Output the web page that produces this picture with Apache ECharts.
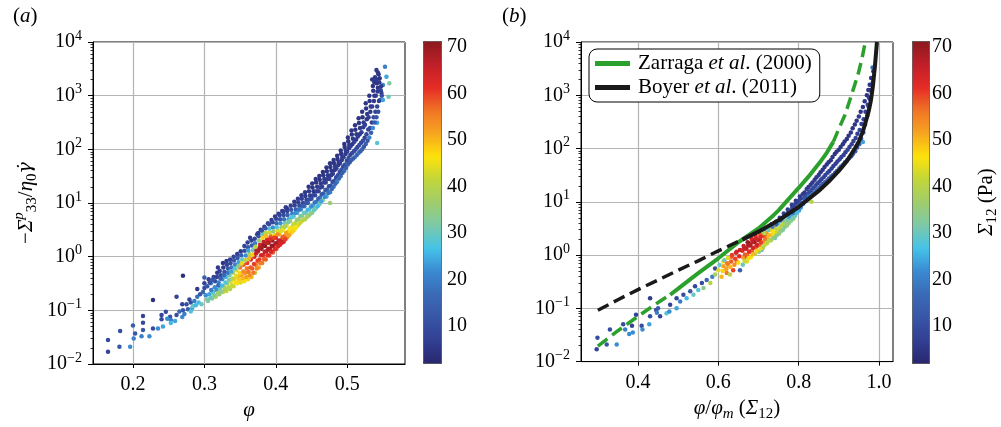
<!DOCTYPE html>
<html><head><meta charset="utf-8">
<script src="https://cdn.jsdelivr.net/npm/echarts@6/dist/echarts.min.js"></script>
<style>html,body{margin:0;padding:0;background:#fff}#c{width:1001px;height:427px}</style>
</head><body><div id="c"></div>
<script>
// ---- data: [phi, -Sigma33/eta0 gammadot, Sigma12 (Pa)] ----
const scatterA = [
[0.165,0.017,8],[0.165,0.028,10],[0.181,0.021,12],[0.182,0.041,10],[0.196,0.021,22],[0.2,0.052,14],[0.203,0.037,12],[0.201,0.03,20],[0.214,0.078,8],[0.214,0.059,10],[0.214,0.043,12],[0.212,0.033,20],[0.223,0.033,22],[0.228,0.156,4],[0.228,0.046,10],[0.235,0.046,22],[0.24,0.068,10],[0.24,0.082,8],[0.242,0.05,24],[0.246,0.094,10],[0.252,0.076,12],[0.253,0.066,20],[0.253,0.058,26],[0.259,0.063,24],[0.261,0.082,10],[0.261,0.18,8],[0.27,0.44,4],[0.269,0.13,8],[0.27,0.1,12],[0.269,0.075,22],[0.272,0.085,20],[0.277,0.105,14],[0.279,0.16,8],[0.281,0.14,10],[0.281,0.095,28],[0.283,0.11,24],[0.286,0.15,20],[0.29,0.25,6],[0.29,0.18,18],[0.292,0.14,26],[0.3,0.41,14],[0.3,0.32,8],[0.3,0.26,10],[0.302,0.19,22],[0.304,0.16,30],
[0.284,0.12,30],[0.288,0.125,26],[0.294,0.2,12],[0.296,0.13,30],[0.298,0.22,16],[0.275,0.13,10],[0.265,0.095,16],[0.248,0.07,22],
[0.305,0.15,32],[0.307,0.2,24],[0.304,0.28,12],[0.306,0.38,7],
[0.311,0.166,34],[0.312,0.22,28],[0.309,0.32,18],[0.313,0.42,8],
[0.316,0.18,38],[0.317,0.24,22],[0.315,0.35,10],[0.318,0.5,6],
[0.321,0.2,36],[0.322,0.25,30],[0.32,0.33,20],[0.323,0.45,9],[0.319,0.63,6],
[0.326,0.22,40],[0.327,0.28,34],[0.325,0.38,22],[0.328,0.52,10],[0.326,0.76,5],
[0.331,0.23,42],[0.332,0.32,36],[0.33,0.42,26],[0.333,0.6,12],[0.331,0.83,6],
[0.336,0.25,40],[0.337,0.34,44],[0.335,0.45,30],[0.338,0.63,18],[0.336,0.89,7],
[0.341,0.28,42],[0.342,0.38,48],[0.34,0.5,38],[0.343,0.71,20],[0.341,1.0,8],
[0.346,0.32,46],[0.347,0.42,50],[0.345,0.56,44],[0.348,0.79,24],[0.346,1.12,7],
[0.351,0.33,44],[0.352,0.45,52],[0.35,0.63,56],[0.353,0.89,30],[0.351,1.26,6],
[0.356,0.35,46],[0.357,0.5,54],[0.355,0.71,58],[0.358,1.05,22],[0.356,1.58,8],
[0.361,0.38,48],[0.362,0.52,56],[0.36,0.76,60],[0.363,1.12,40],[0.361,1.5,12],[0.364,2.24,6],
[0.366,0.42,50],[0.367,0.6,58],[0.365,0.89,62],[0.368,1.32,30],[0.366,2.0,7],
[0.371,0.5,40],[0.372,0.71,56],[0.37,1.0,64],[0.373,1.32,66],[0.371,1.78,20],[0.374,2.63,6],
[0.376,0.63,52],[0.377,0.89,60],[0.375,1.26,68],[0.378,1.66,64],[0.376,2.4,12],[0.379,3.16,6],
[0.381,0.76,56],[0.382,1.07,62],[0.38,1.41,70],[0.383,1.9,66],[0.381,2.63,30],[0.384,3.6,7],
[0.386,0.89,58],[0.387,1.26,66],[0.385,1.58,71],[0.388,2.1,64],[0.386,2.8,40],[0.389,4.2,8],
[0.391,1.05,60],[0.392,1.41,68],[0.39,1.82,70],[0.393,2.4,58],[0.391,3.3,28],[0.394,4.8,7],
[0.396,1.2,58],[0.397,1.58,66],[0.395,2.0,70],[0.398,2.5,48],[0.396,3.5,22],[0.399,5.6,6],
[0.401,1.41,60],[0.402,1.78,68],[0.4,2.24,64],[0.403,3.0,44],[0.401,4.2,16],[0.404,6.3,6],
[0.406,1.66,62],[0.407,2.0,66],[0.405,2.63,50],[0.408,3.5,36],[0.406,5.0,12],[0.409,7.1,6],
[0.411,1.9,64],[0.412,2.4,56],[0.41,3.16,46],[0.413,4.2,30],[0.411,6.0,10],[0.414,8.3,6],
[0.416,2.3,54],[0.417,2.9,48],[0.415,3.8,42],[0.418,5.0,24],[0.416,7.1,8],
[0.421,2.75,48],[0.422,3.5,44],[0.42,4.6,36],[0.423,6.3,20],[0.421,8.9,7],
[0.426,3.16,46],[0.427,4.2,40],[0.425,5.6,28],[0.428,7.6,14],[0.426,10.5,6],
[0.431,3.8,44],[0.432,5.0,36],[0.43,6.6,24],[0.433,8.9,10],[0.431,12,6],
[0.436,4.5,42],[0.437,5.8,34],[0.435,7.6,22],[0.438,10,9],[0.436,14,6],
[0.441,5.0,40],[0.442,6.6,30],[0.44,8.7,18],[0.443,11.5,8],[0.441,15.8,6],
[0.446,5.8,36],[0.447,7.6,28],[0.445,10,14],[0.448,13.8,7],[0.446,20,5],
[0.451,6.6,34],[0.452,8.9,24],[0.45,12,10],[0.453,16.6,6],[0.451,23,5],
[0.456,7.9,32],[0.457,10.5,20],[0.455,14,9],[0.458,20,6],[0.456,28,5],
[0.461,9.5,30],[0.462,12.6,18],[0.46,16.6,8],[0.463,23,6],[0.461,32,5],
[0.466,11.2,34],[0.467,15,16],[0.465,20,8],[0.468,28,6],[0.466,38,5],
[0.471,13.2,24],[0.472,17.8,14],[0.47,24,8],[0.473,33,6],[0.471,46,5],[0.476,10,36],
[0.476,15.8,20],[0.477,21,12],[0.475,28,7],[0.478,40,5],[0.476,55,5],
[0.481,20,18],[0.482,26,12],[0.48,35,7],[0.483,48,6],[0.481,63,5],
[0.486,25,20],[0.487,33,10],[0.485,44,7],[0.488,58,6],[0.486,76,5],
[0.491,32,16],[0.492,42,11],[0.49,55,7],[0.493,72,6],[0.491,95,5],
[0.496,40,18],[0.497,52,12],[0.495,71,7],[0.498,95,6],[0.496,126,5],
[0.501,52,14],[0.502,69,10],[0.5,91,7],[0.503,120,6],[0.501,166,5],
[0.506,63,16],[0.507,85,11],[0.505,115,7],[0.508,158,6],[0.506,224,5],
[0.511,72,20],[0.512,100,12],[0.51,138,8],[0.513,190,6],[0.511,282,5],
[0.516,85,18],[0.517,120,11],[0.515,174,7],[0.518,251,6],[0.516,380,5],
[0.521,100,16],[0.522,145,10],[0.52,209,7],[0.523,316,6],[0.521,500,5],
[0.526,126,14],[0.527,190,9],[0.525,288,7],[0.528,457,6],[0.526,724,5],
[0.531,166,20],[0.532,251,10],[0.53,398,7],[0.533,631,6],[0.531,1000,5],
[0.536,251,22],[0.537,398,10],[0.535,631,7],[0.538,1000,6],[0.536,1510,5],
[0.541,398,12],[0.542,631,8],[0.54,1000,6],[0.543,1410,5],[0.541,2000,6],[0.541,3000,6],
[0.546,830,14],[0.547,1260,8],[0.545,1780,6],[0.544,2500,5],
[0.553,3470,20],[0.555,2260,24],[0.559,1700,32],[0.558,957,30],[0.55,830,24],[0.542,314,24],[0.542,131,28],[0.55,1580,20],[0.538,1780,6],[0.548,1120,7],
[0.3085,0.17,30],[0.3095,0.24,20],[0.3075,0.33,10],
[0.3135,0.19,32],[0.3145,0.27,22],[0.3115,0.37,12],
[0.3185,0.21,36],[0.3195,0.29,16],[0.3175,0.42,8],
[0.3235,0.225,34],[0.3245,0.29,26],[0.3225,0.39,14],[0.3215,0.54,7],
[0.3285,0.25,38],[0.3295,0.33,28],[0.3275,0.45,16],[0.3265,0.63,6],
[0.3335,0.27,40],[0.3345,0.37,32],[0.3325,0.5,18],[0.3315,0.71,8],
[0.3385,0.29,42],[0.3395,0.39,40],[0.3375,0.53,24],[0.3365,0.75,10],
[0.3435,0.33,46],[0.3445,0.44,44],[0.3425,0.6,28],[0.3415,0.85,12],
[0.3485,0.37,48],[0.3495,0.49,48],[0.3475,0.67,34],[0.3465,0.94,12],
[0.3535,0.39,50],[0.3545,0.53,54],[0.3525,0.75,44],[0.3515,1.06,14],
[0.3585,0.42,52],[0.3595,0.6,56],[0.3575,0.86,40],[0.3565,1.29,10],
[0.3635,0.45,54],[0.3645,0.63,58],[0.3625,0.92,50],[0.3615,1.3,24],[0.3605,1.83,7],
[0.3685,0.5,56],[0.3695,0.73,60],[0.3675,1.08,48],[0.3665,1.62,14],
[0.3735,0.6,54],[0.3745,0.84,60],[0.3725,1.15,66],[0.3715,1.53,40],[0.3705,2.16,8],
[0.3785,0.75,56],[0.3795,1.06,64],[0.3775,1.45,68],[0.3765,2.0,36],[0.3755,2.75,7],
[0.3835,0.9,58],[0.3845,1.23,66],[0.3825,1.64,70],[0.3815,2.24,48],[0.3805,3.08,10],
[0.3885,1.06,62],[0.3895,1.41,68],[0.3875,1.82,66],[0.3865,2.42,50],[0.3855,3.4,12],
[0.3935,1.23,64],[0.3945,1.6,70],[0.3925,2.1,62],[0.3915,2.8,42],[0.3905,4.0,10],
[0.3985,1.38,62],[0.3995,1.78,68],[0.3975,2.24,60],[0.3965,2.96,36],[0.3955,4.4,9],
[0.4035,1.58,64],[0.4045,2.0,66],[0.4025,2.6,54],[0.4015,3.55,28],[0.4005,5.1,8],
[0.4085,1.82,64],[0.4095,2.3,58],[0.4075,3.0,44],[0.4065,4.2,22],[0.4055,6.0,8],
[0.4135,2.1,60],[0.4145,2.75,52],[0.4125,3.6,38],[0.4115,5.0,18],[0.4105,7.0,7],
[0.4185,2.5,52],[0.4195,3.3,46],[0.4175,4.4,32],[0.4165,6.0,14],[0.4155,8.0,6],
[0.4235,2.95,48],[0.4245,4.0,42],[0.4225,5.4,28],[0.4215,7.5,12],
[0.4285,3.5,46],[0.4295,4.8,36],[0.4275,6.5,22],[0.4265,9.0,8],
[0.4335,4.2,42],[0.4345,5.7,32],[0.4325,7.6,18],[0.4315,10.3,7],
[0.4385,4.9,40],[0.4395,6.6,30],[0.4375,8.7,14],[0.4365,12,7],
[0.4435,5.5,38],[0.4445,7.5,26],[0.4425,10,12],[0.4415,13.5,6],
[0.4485,6.3,34],[0.4495,8.6,22],[0.4475,11.7,10],[0.4465,16.6,6],
[0.4535,7.4,30],[0.4545,10.2,18],[0.4525,14,8],[0.4515,19.5,5],
[0.4585,8.7,26],[0.4595,12,14],[0.4575,16.6,7],[0.4565,24,5],
[0.4635,10.8,24],[0.4645,14.5,12],[0.4625,19.5,7],[0.4615,27,5],
[0.4685,12.9,22],[0.4695,17.4,12],[0.4675,24,7],[0.4665,33,5],
[0.4735,15.3,18],[0.4745,20.6,10],[0.4725,28,7],[0.4715,39,5],
[0.4785,18.2,16],[0.4795,24.5,10],[0.4775,33,6],[0.4765,47,5],
[0.4835,22.8,16],[0.4845,30,9],[0.4825,41,6],[0.4815,55,5],
[0.4885,28.7,16],[0.4895,38,9],[0.4875,51,6],[0.4865,66,5],
[0.4935,36.6,14],[0.4945,48,9],[0.4925,63,6],[0.4915,83,5],
[0.4985,45.6,14],[0.4995,61,9],[0.4975,82,6],[0.4965,110,5],
[0.5035,57.3,12],[0.5045,79,8],[0.5025,105,6],[0.5015,141,5],
[0.5085,67.3,14],[0.5095,92,9],[0.5075,126,6],[0.5065,188,5],
[0.5135,78.6,16],[0.5145,110,9],[0.5125,152,6],[0.5115,231,5],
[0.5185,92,14],[0.5195,132,9],[0.5175,190,6],[0.5165,309,5],
[0.5235,112,12],[0.5245,165,8],[0.5225,257,6],[0.5215,398,5],
[0.5285,145,12],[0.5295,234,8],[0.5275,363,6],[0.5265,575,5],
[0.5335,204,14],[0.5345,316,8],[0.5325,501,6],[0.5315,794,5],
[0.5385,316,14],[0.5395,501,8],[0.5375,794,6],[0.5365,1230,5],
[0.5435,501,10],[0.5445,794,7],[0.5425,1190,6],[0.5415,1700,5],
[0.5485,1000,10],[0.5475,1500,6],[0.5455,2100,5],
[0.539,2200,6],[0.543,2700,6],[0.535,2000,6]
];
// [phi/phi_m(Sigma12), -Sigma33/eta0 gammadot, Sigma12 (Pa)]
const scatterB = [
[0.297,0.017,8],[0.299,0.028,10],[0.322,0.021,12],[0.33,0.04,10],[0.347,0.021,22],[0.363,0.05,10],[0.368,0.04,20],[0.378,0.033,22],[0.385,0.047,8],[0.387,0.035,22],[0.395,0.076,8],[0.409,0.047,10],[0.411,0.04,22],[0.43,0.155,6],[0.43,0.071,10],[0.428,0.05,24],[0.445,0.093,10],[0.447,0.083,20],[0.45,0.1,14],[0.455,0.071,8],[0.471,0.081,28],[0.48,0.117,8],[0.478,0.087,22],[0.496,0.155,8],[0.496,0.1,24],[0.505,0.135,20],[0.513,0.18,10],[0.521,0.155,26],[0.53,0.21,12],[0.538,0.18,30],[0.542,0.26,8],[0.55,0.22,28],[0.559,0.3,10],[0.563,0.24,34],[0.571,0.34,16],[0.58,0.3,40],[0.585,0.39,20],[0.592,0.43,38],[0.592,0.56,10],[0.6,0.52,44],[0.603,0.65,30],[0.608,0.39,50],[0.612,0.76,46],[0.621,0.46,56],[0.625,0.65,54],[0.629,0.43,40],[0.633,0.93,58],[0.637,0.52,60],[0.646,0.76,56],[0.646,1.15,62],[0.654,0.52,14],[0.666,0.93,64],[0.666,1.35,68],[0.675,1.66,70],[0.683,1.15,62],[0.687,1.9,68],[0.695,1.45,64],[0.704,2.0,66],[0.708,1.26,26],[0.716,2.2,60],[0.725,1.9,52],[0.733,2.95,44],[0.741,2.4,48],[0.754,3.16,40],[0.762,4.2,36],[0.77,4.0,44],[0.779,5.1,34],[0.787,4.8,40],[0.795,6.5,30],[0.804,8.5,20],
[0.611,0.5,48],[0.613,0.62,52],[0.615,0.8,30],
[0.62,0.55,52],[0.622,0.7,56],[0.624,0.88,44],
[0.63,0.6,50],[0.632,0.76,58],[0.634,1.0,60],
[0.64,0.66,54],[0.642,0.85,60],[0.644,1.1,64],
[0.65,0.72,46],[0.652,0.95,62],[0.654,1.25,66],
[0.661,0.66,30],[0.662,0.89,52],[0.66,1.2,62],[0.663,1.48,66],
[0.671,0.76,44],[0.672,1.0,56],[0.67,1.32,66],[0.673,1.74,70],
[0.681,0.91,46],[0.682,1.2,58],[0.68,1.51,68],[0.683,2.0,64],
[0.691,1.05,40],[0.692,1.38,60],[0.69,1.74,70],[0.693,2.24,62],
[0.701,1.15,34],[0.702,1.51,56],[0.7,1.9,66],[0.703,2.5,58],
[0.711,1.38,36],[0.712,1.78,52],[0.71,2.3,60],[0.713,2.9,20],
[0.721,1.66,40],[0.722,2.1,50],[0.72,2.63,54],[0.723,3.3,12],
[0.731,1.9,38],[0.732,2.4,46],[0.73,3.0,48],[0.733,3.8,8],
[0.741,2.1,30],[0.742,2.63,44],[0.74,3.3,40],[0.743,4.2,8],
[0.751,2.5,36],[0.752,3.16,42],[0.75,4.0,28],[0.753,5.0,7],
[0.761,3.0,32],[0.762,3.8,40],[0.76,4.8,22],[0.763,6.0,7],
[0.771,3.6,36],[0.772,4.6,30],[0.77,5.8,14],[0.773,7.2,6],
[0.781,4.4,34],[0.782,5.5,24],[0.78,6.9,10],[0.783,8.7,6],
[0.791,5.5,30],[0.792,6.9,20],[0.79,8.7,8],[0.793,10.5,6],
[0.801,6.9,24],[0.802,8.7,16],[0.8,10.5,8],[0.803,12.6,6],
[0.811,9.1,22],[0.812,11.5,14],[0.81,13.8,7],[0.832,10,40],
[0.821,11.2,22],[0.822,13.8,12],[0.82,17.4,7],
[0.831,13.2,20],[0.832,16.6,10],[0.83,21,6],
[0.841,15.1,18],[0.842,20,9],[0.84,26,6],
[0.851,18.2,16],[0.852,24,8],[0.85,32,6],
[0.861,21.9,14],[0.862,29,8],[0.86,40,5],
[0.871,25,14],[0.872,35,8],[0.87,50,5],
[0.881,30,12],[0.882,42,7],[0.88,60,5],
[0.891,35,12],[0.892,52,7],[0.89,79,5],
[0.901,42,14],[0.902,63,8],[0.9,95,5],
[0.911,50,12],[0.912,76,7],[0.91,120,5],
[0.921,60,14],[0.922,95,8],[0.92,151,5],
[0.931,72,12],[0.932,120,7],[0.93,200,5],
[0.941,89,14],[0.942,158,8],[0.94,282,5],
[0.951,120,16],[0.952,224,8],[0.95,398,6],
[0.961,200,12],[0.962,355,7],[0.96,603,5],[0.96,132,24],
[0.971,417,10],[0.972,661,7],[0.97,1000,5],
[0.978,832,8],[0.979,1260,6],[0.977,1580,5],
[0.985,1780,6],[0.986,2820,6],[0.984,3310,18],
[0.6655,0.77,42],[0.6665,1.03,58],[0.6645,1.33,66],
[0.6755,0.87,46],[0.6765,1.15,62],[0.6745,1.52,68],
[0.6855,1.04,50],[0.6865,1.35,64],[0.6845,1.74,66],
[0.6955,1.2,48],[0.6965,1.55,64],[0.6945,1.98,64],
[0.7055,1.32,44],[0.7065,1.7,60],[0.7045,2.18,62],
[0.7155,1.55,42],[0.7165,2.0,56],[0.7145,2.58,40],
[0.7255,1.85,40],[0.7265,2.35,50],[0.7245,2.95,30],
[0.7355,2.1,36],[0.7365,2.7,46],[0.7345,3.4,20],
[0.7455,2.35,34],[0.7465,2.95,42],[0.7445,3.75,14],
[0.7555,2.8,34],[0.7565,3.55,40],[0.7545,4.5,12],
[0.7655,3.35,34],[0.7665,4.25,34],[0.7645,5.4,10],
[0.7755,4.0,34],[0.7765,5.2,24],[0.7745,6.5,8],
[0.7855,4.9,32],[0.7865,6.2,18],[0.7845,7.8,7],
[0.7955,6.2,26],[0.7965,7.8,14],[0.7945,9.6,7],
[0.8055,7.8,22],[0.8065,9.6,12],[0.8045,11.5,7],
[0.8155,10.2,18],[0.8165,12.6,10],[0.8145,15,6],
[0.8255,12.4,18],[0.8265,15.5,9],[0.8245,19,6],
[0.8355,14,16],[0.8365,18.2,9],[0.8345,23,6],
[0.8455,16.6,16],[0.8465,22,8],[0.8445,29,6],
[0.8555,20,14],[0.8565,26.5,8],[0.8545,36,5],
[0.8655,23.4,14],[0.8665,32,8],[0.8645,45,5],
[0.8755,27.5,12],[0.8765,38,7],[0.8745,55,5],
[0.8855,32,12],[0.8865,47,7],[0.8845,69,5],
[0.8955,38,12],[0.8965,57,7],[0.8945,87,5],
[0.9055,46,12],[0.9065,69,7],[0.9045,107,5],
[0.9155,55,12],[0.9165,85,7],[0.9145,135,5],
[0.9255,66,12],[0.9265,107,7],[0.9245,174,5],
[0.9355,80,12],[0.9365,138,7],[0.9345,240,5],
[0.9455,105,12],[0.9465,190,7],[0.9445,331,5],
[0.9555,155,12],[0.9565,288,7],[0.9545,490,5],
[0.9655,282,10],[0.9665,490,7],[0.9645,776,5],
[0.9745,600,8],[0.9755,900,6],[0.9735,1250,5],
[0.9815,1150,7],[0.9825,1600,6],[0.9805,2100,5]
];
// model curves, panel (b)
const zarragaDashLow = [[0.3,0.0195],[0.35,0.038],[0.4,0.0708],[0.45,0.129],[0.48,0.18]];
const zarragaSolid = [[0.48,0.18],[0.5,0.234],[0.55,0.457],[0.6,0.87],[0.65,1.74],[0.7,3.16],[0.737,5.56],[0.75,6.9],[0.775,11.2],[0.8,18.2],[0.825,30],[0.853,55],[0.87,83],[0.886,132]];
const zarragaDashHigh = [[0.886,132],[0.903,263],[0.915,420],[0.928,832],[0.94,1600],[0.949,2630],[0.958,5000],[0.967,10960]];
const boyerDash = [[0.3,0.092],[0.35,0.145],[0.4,0.225],[0.45,0.34],[0.5,0.52],[0.55,0.78],[0.6,1.2],[0.66,1.95]];
const boyerSolid = [[0.66,1.95],[0.7,2.75],[0.75,4.5],[0.8,8],[0.85,16],[0.875,24],[0.9,38],[0.92,58],[0.94,100],[0.95,135],[0.96,210],[0.97,380],[0.975,520],[0.98,800],[0.985,1500],[0.99,3500],[0.995,10000]];
const xTicksA = [0.2,0.3,0.4,0.5];
const xTicksB = [0.4,0.6,0.8,1.0];
const cbTicks = [10,20,30,40,50,60,70];
const legendNames = ['Zarraga et al. (2000)','Boyer et al. (2011)'];

const F = '"Liberation Serif", "Times New Roman", serif';
const FS = 20;
const jet = ['#28266e','#323f93','#3856a6','#3a6ab6','#3a8ad2','#45c3e8','#7cc9a8','#a0cd6c','#c2d63a','#fde20a','#f7a51f','#f07426','#e52b26','#c01f28','#8a1a1e'];
const CB_MIN = 2, CB_MAX = 71.3;
const GREEN = '#2ca02c', BLACK = '#1a1a1a';

const rich = {
  b:{fontFamily:F,fontSize:FS,lineHeight:26,color:'#000'},
  s:{fontFamily:F,fontSize:14,lineHeight:14,verticalAlign:'top',color:'#000'},
  n:{fontFamily:F,fontSize:21,lineHeight:28,color:'#000',fontWeight:'normal'},
  i:{fontFamily:F,fontSize:21,lineHeight:28,fontStyle:'italic',color:'#000',fontWeight:'normal'},
  g:{fontFamily:'"DejaVu Serif", serif',fontSize:19,lineHeight:28,fontStyle:'italic',color:'#000'},
  sup:{fontFamily:F,fontSize:15,lineHeight:14,verticalAlign:'top',fontStyle:'italic',color:'#000'},
  sub:{fontFamily:F,fontSize:15,lineHeight:14,verticalAlign:'bottom',color:'#000'},
  subi:{fontFamily:F,fontSize:15,lineHeight:14,verticalAlign:'bottom',fontStyle:'italic',color:'#000'}
};
const minorVals = [];
for (let k=-2;k<4;k++) for (let m=2;m<10;m++) minorVals.push(k+Math.log10(m));

function logLabel(v){ const e=Math.round(Math.log10(v)); return '{b|10}{s|'+(e<0?'\u2212'+(-e):e)+'}'; }

const labelBase = {fontFamily:F,fontSize:FS,color:'#000'};
function mainX(idx, min, max, ticks, name){
  return {type:'value', gridIndex:idx, min:min, max:max,
    axisLine:{show:true,onZero:false,lineStyle:{color:'#000',width:1}},
    axisTick:{show:true,length:4,customValues:ticks,lineStyle:{color:'#000'}},
    axisLabel:Object.assign({customValues:ticks,formatter:v=>'{b|'+v.toFixed(1)+'}',rich:rich,margin:8},labelBase),
    splitLine:{show:true,lineStyle:{color:'#b4b4b4',width:1.2}},
    name:name,nameLocation:'middle',nameGap:30,nameTextStyle:{fontFamily:F,rich:rich}};
}
function mainY(idx, name){
  return {type:'log', logBase:10, gridIndex:idx, min:0.01, max:10000,
    axisLine:{show:true,onZero:false,lineStyle:{color:'#000',width:1}},
    axisTick:{show:true,length:5,lineStyle:{color:'#000'}},
    axisLabel:Object.assign({formatter:logLabel,rich:rich,margin:11},labelBase),
    splitLine:{show:true,lineStyle:{color:'#b4b4b4',width:1.2}},
    name:name||'',nameLocation:'middle',nameRotate:90,nameGap:53,nameTextStyle:{fontFamily:F,rich:rich}};
}
function minorY(idx){
  return {type:'value', gridIndex:idx, min:-2, max:4, position:'left',
    axisLine:{show:false}, axisLabel:{show:false}, splitLine:{show:false},
    axisTick:{show:true,length:2.5,customValues:minorVals,lineStyle:{color:'#000',width:0.8}}};
}
function cbY(idx, name){
  return {type:'value', gridIndex:idx, min:CB_MIN, max:CB_MAX, position:'right',
    axisLine:{show:false}, splitLine:{show:false},
    axisTick:{show:true,length:4,customValues:cbTicks,lineStyle:{color:'#333'}},
    axisLabel:Object.assign({customValues:cbTicks,formatter:v=>'{b|'+v+'}',rich:rich,margin:6},labelBase),
    name:name||'',nameLocation:'middle',nameRotate:90,nameGap:46,nameTextStyle:{fontFamily:F,rich:rich}};
}
function legendFmt(name){
  const p = name.split(' et al.');
  return '{l0|'+p[0]+' }{li|et al}{ln|.'+p[1]+'}';
}

const option = {
  animation:false,
  backgroundColor:'#fff',
  textStyle:{fontFamily:F,color:'#000'},
  title:[
    {text:'{n|(}{i|a}{n|)}',left:13,top:2,padding:0,textStyle:{fontWeight:'normal',fontFamily:F,rich:rich}},
    {text:'{n|(}{i|b}{n|)}',left:502,top:2,padding:0,textStyle:{fontWeight:'normal',fontFamily:F,rich:rich}}
  ],
  grid:[
    {left:93,top:42,width:312,height:322,show:true,borderColor:'#000',borderWidth:1,backgroundColor:'transparent'},
    {left:581,top:42,width:312,height:322,show:true,borderColor:'#000',borderWidth:1,backgroundColor:'transparent'},
    {left:423,top:41,width:18,height:322},
    {left:912,top:41,width:17,height:322}
  ],
  xAxis:[
    mainX(0,0.144,0.581,xTicksA,'{i|\u03c6}'),
    mainX(1,0.258,1.035,xTicksB,'{i|\u03c6}{n|/}{i|\u03c6}{subi|m}{n| (}{i|\u03a3}{sub|12}{n|)}'),
    {type:'value',gridIndex:2,min:0,max:1,show:false},
    {type:'value',gridIndex:3,min:0,max:1,show:false}
  ],
  yAxis:[
    mainY(0,'{n|\u2212}{i|\u03a3}{sup|p}{sub|33}{n|/}{i|\u03b7}{sub|0}{g|\u03b3\u0307}'),
    mainY(1),
    minorY(0),
    minorY(1),
    cbY(2),
    cbY(3,'{i|\u03a3}{sub|12}{n| (Pa)}')
  ],
  visualMap:[
    {type:'continuous',seriesIndex:0,dimension:2,min:CB_MIN,max:CB_MAX,inRange:{color:jet},
     left:423,top:41,itemWidth:18,itemHeight:322,calculable:false,padding:0,borderColor:'#444',borderWidth:1,hoverLink:false},
    {type:'continuous',seriesIndex:1,dimension:2,min:CB_MIN,max:CB_MAX,inRange:{color:jet},
     left:912,top:41,itemWidth:17,itemHeight:322,calculable:false,padding:0,borderColor:'#444',borderWidth:1,hoverLink:false}
  ],
  legend:{
    data:legendNames, orient:'vertical', left:589, top:49, padding:[4,8,4,6],
    itemGap:3, itemWidth:35, itemHeight:5, icon:'rect',
    borderColor:'#000', borderWidth:1, borderRadius:8, backgroundColor:'#fff',
    formatter:legendFmt,
    textStyle:{fontFamily:F,rich:{
      l0:{fontFamily:F,fontSize:21,lineHeight:22,color:'#000',padding:[0,0,0,3]},
      ln:{fontFamily:F,fontSize:21,lineHeight:22,color:'#000'},
      li:{fontFamily:F,fontSize:21,lineHeight:22,fontStyle:'italic',color:'#000'}
    }},
    selectedMode:false
  },
  series:[
    {type:'scatter',data:scatterA,xAxisIndex:0,yAxisIndex:0,symbolSize:4.5,itemStyle:{opacity:1},z:2,silent:true},
    {type:'scatter',data:scatterB,xAxisIndex:1,yAxisIndex:1,symbolSize:4.5,itemStyle:{opacity:1},z:2,silent:true},
    {type:'line',name:'zdash1',data:zarragaDashLow,xAxisIndex:1,yAxisIndex:1,showSymbol:false,symbol:'none',lineStyle:{color:GREEN,width:3.5,type:[12,6]},itemStyle:{color:GREEN},z:5,silent:true},
    {type:'line',name:legendNames[0],data:zarragaSolid,xAxisIndex:1,yAxisIndex:1,showSymbol:false,symbol:'none',lineStyle:{color:GREEN,width:4},itemStyle:{color:GREEN},z:5,silent:true},
    {type:'line',name:'zdash2',data:zarragaDashHigh,xAxisIndex:1,yAxisIndex:1,showSymbol:false,symbol:'none',lineStyle:{color:GREEN,width:3.5,type:[12,6]},itemStyle:{color:GREEN},z:5,silent:true},
    {type:'line',name:'bdash',data:boyerDash,xAxisIndex:1,yAxisIndex:1,showSymbol:false,symbol:'none',lineStyle:{color:BLACK,width:3.5,type:[12,6]},itemStyle:{color:BLACK},z:6,silent:true},
    {type:'line',name:legendNames[1],data:boyerSolid,xAxisIndex:1,yAxisIndex:1,showSymbol:false,symbol:'none',lineStyle:{color:BLACK,width:4},itemStyle:{color:BLACK},z:6,silent:true}
  ]
};
const chart = echarts.init(document.getElementById('c'),null,{renderer:'canvas'});
chart.setOption(option);
</script>
</body></html>
